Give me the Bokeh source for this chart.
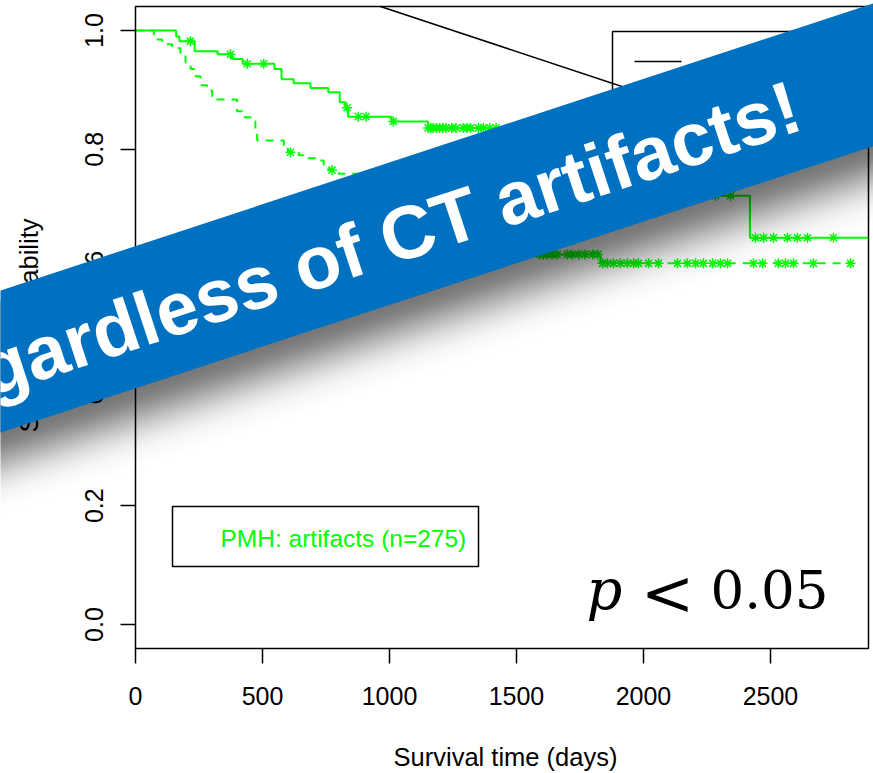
import math
from bokeh.plotting import figure
from bokeh.models import (Range1d, FixedTicker, PrintfTickFormatter, PolyAnnotation,
                          Label, BoxAnnotation)
from bokeh.embed import file_html
from bokeh.resources import INLINE

# ---------------- data ----------------
x_ticks = [0, 500, 1000, 1500, 2000, 2500]
y_ticks = [0.0, 0.2, 0.4, 0.6, 0.8, 1.0]
x_lim = [0, 2886]
y_lim = [-0.0404, 1.0404]

# solid curve (step times and survival after each step)
solid_time = [0, 160, 173, 233, 323, 380, 422, 547, 575, 623, 689, 759, 804, 827, 837,
              1008, 1152, 1560, 1700, 1850, 1980, 2100, 2180, 2419, 2886]
solid_surv = [1.0, 0.990, 0.982, 0.965, 0.960, 0.952, 0.944, 0.935, 0.918, 0.911, 0.903,
              0.896, 0.879, 0.870, 0.855, 0.847, 0.836, 0.82, 0.80, 0.78, 0.76, 0.74,
              0.722, 0.651, 0.651]
solid_cens_time = [216, 374, 440, 505, 833, 877, 908, 1015, 1152, 1162, 1172, 1185, 1197,
                   1210, 1222, 1245, 1262, 1290, 1305, 1320, 1350, 1370, 1395, 1420,
                   2283, 2343, 2441, 2473, 2512, 2567, 2606, 2646, 2748]

# dashed curve
dash_time = [0, 72, 105, 144, 177, 197, 217, 236, 256, 282, 302, 400, 426, 453, 472, 479,
             584, 600, 643, 669, 715, 741, 760, 800, 900, 1000, 1100, 1200, 1300, 1420,
             1520, 1580, 1831, 2823]
dash_surv = [1.0, 0.985, 0.977, 0.970, 0.959, 0.946, 0.935, 0.923, 0.908, 0.899, 0.884,
             0.864, 0.854, 0.847, 0.833, 0.815, 0.807, 0.795, 0.790, 0.785, 0.781, 0.774,
             0.765, 0.759, 0.74, 0.72, 0.70, 0.68, 0.66, 0.645, 0.632, 0.623, 0.608, 0.608]
dash_cens_time = [610, 774, 1590, 1605, 1620, 1640, 1660, 1700, 1720, 1745, 1770, 1800,
                  1820, 1839, 1858, 1882, 1909, 1937, 1961, 1980, 2020, 2059, 2134, 2173,
                  2205, 2236, 2272, 2303, 2331, 2433, 2469, 2531, 2559, 2591, 2669, 2815]

x_title = "Survival time (days)"
y_title = "Survival probability"
legend_text = "PMH: artifacts (n=275)"
banner_text = "Regardless of CT artifacts!"


def surv_at(times, survs, t):
    s = survs[0]
    for ti, si in zip(times, survs):
        if ti <= t:
            s = si
    return s


solid_cens_surv = [surv_at(solid_time, solid_surv, t) for t in solid_cens_time]
dash_cens_surv = [surv_at(dash_time, dash_surv, t) for t in dash_cens_time]

# ---------------- layout ----------------
W, H = 873, 773
BX0, BX1, BY0, BY1 = 135, 868, 6, 648        # pixel box of the plot region
SX = (x_lim[1] - x_lim[0]) / (BX1 - BX0)
SY = (y_lim[1] - y_lim[0]) / (BY1 - BY0)


def dx(px):
    return x_lim[0] + (px - BX0) * SX


def dy(py):
    return y_lim[1] - (py - BY0) * SY


GREEN = "#00FF00"
FONT = "Liberation Sans"

p = figure(width=W, height=H, x_range=Range1d(dx(0), dx(W)),
           y_range=Range1d(dy(H), dy(0)),
           output_backend="svg", toolbar_location=None,
           min_border_left=0, min_border_right=0, min_border_top=0, min_border_bottom=0)
p.grid.visible = False
p.outline_line_color = None
p.background_fill_color = "white"
p.border_fill_color = "white"

for ax in (p.xaxis[0], p.yaxis[0]):
    ax.axis_line_color = None
    ax.major_tick_out = 15
    ax.major_tick_in = 0
    ax.minor_tick_line_color = None
    ax.major_tick_line_width = 1.5
    ax.major_tick_line_color = "black"
    ax.major_label_text_font = FONT
    ax.major_label_text_font_size = "25px"
    ax.major_label_text_color = "black"

p.xaxis.fixed_location = y_lim[0]
p.yaxis.fixed_location = x_lim[0]
p.xaxis.ticker = FixedTicker(ticks=x_ticks)
p.yaxis.ticker = FixedTicker(ticks=y_ticks)
p.yaxis.formatter = PrintfTickFormatter(format="%.1f")
p.yaxis.major_label_orientation = "vertical"
p.xaxis.major_label_standoff = 23
p.yaxis.major_label_standoff = 17

# axis titles, centred on the plot box
p.add_layout(Label(x=dx(505), y=dy(756), text=x_title, text_align="center",
                   text_baseline="alphabetic", text_font=FONT,
                   text_font_size="25.5px", text_color="black"))
p.add_layout(Label(x=dx(28), y=dy(325), text=y_title, text_align="center",
                   text_baseline="alphabetic", text_font=FONT, angle=math.pi / 2,
                   text_font_size="25.5px", text_color="black"))

# plot box
p.add_layout(BoxAnnotation(left=x_lim[0], right=x_lim[1], bottom=y_lim[0], top=y_lim[1],
                           fill_alpha=0, line_color="black", line_alpha=1,
                           line_width=1.5))

# curves
p.step(solid_time, solid_surv, mode="after", line_color=GREEN, line_width=2)
p.step(dash_time, dash_surv, mode="after", line_color=GREEN, line_width=2,
       line_dash="8 7")
p.scatter(solid_cens_time, solid_cens_surv, marker="asterisk", size=10,
          line_color=GREEN, line_width=1.5)
p.scatter(dash_cens_time, dash_cens_surv, marker="asterisk", size=10,
          line_color=GREEN, line_width=1.5)

# black diagonal line and top-right legend (partly hidden by banner)
p.line([dx(380), dx(700)], [dy(6), dy(6 + 0.331 * 320)], line_color="black",
       line_width=1.5)
p.add_layout(BoxAnnotation(left=dx(612), right=dx(860), top=dy(31), bottom=dy(120),
                           fill_alpha=0, line_color="black", line_alpha=1,
                           line_width=1.5))
p.line([dx(634), dx(681)], [dy(61), dy(61)], line_color="black", line_width=1.5)

# bottom legend
p.add_layout(BoxAnnotation(left=dx(172), right=dx(478), top=dy(506), bottom=dy(566),
                           fill_alpha=0, line_color="black", line_alpha=1,
                           line_width=1.5))
p.add_layout(Label(x=dx(220), y=dy(538), text=legend_text, text_align="left",
                   text_baseline="alphabetic", text_font=FONT,
                   text_font_size="24.5px", text_color=GREEN))

# p < 0.05
p.add_layout(Label(x=dx(586), y=dy(589), text="p", text_align="left",
                   text_baseline="alphabetic", text_font="DejaVu Serif",
                   text_font_style="italic", text_font_size="56px", text_color="black"))
p.add_layout(Label(x=dx(667), y=dy(592), text="<", text_align="center",
                   text_baseline="alphabetic", text_font="DejaVu Serif",
                   text_font_size="64px", text_color="black"))
p.add_layout(Label(x=dx(710), y=dy(588), text="0.05", text_align="left",
                   text_baseline="alphabetic", text_font="DejaVu Serif",
                   text_font_size="53px", text_color="black"))


# banner shadow
def top_edge(x):
    return 290 - 0.329 * x


def bot_edge(x):
    return 432 - 0.328 * x


XL, XR = -80, 980
step = 3
K = 36
D = [0.50 * math.exp(-(((k + 0.5) * step) / 40.0) ** 2) for k in range(K)]
S = [1 - d for d in D] + [1.0]
for k in range(K - 1, -1, -1):
    a = 1 - S[k] / S[k + 1]
    off = (k + 1) * step
    xs = [dx(XL), dx(XR), dx(XR), dx(XL)]
    ys = [dy(top_edge(XL) + 10), dy(top_edge(XR) + 10), dy(bot_edge(XR) + off),
          dy(bot_edge(XL) + off)]
    p.add_layout(PolyAnnotation(xs=xs, ys=ys, fill_color="black", fill_alpha=a,
                                line_color=None))

# banner
p.add_layout(PolyAnnotation(
    xs=[dx(XL), dx(XR), dx(XR), dx(XL)],
    ys=[dy(top_edge(XL)), dy(top_edge(XR)), dy(bot_edge(XR)), dy(bot_edge(XL))],
    fill_color="#0070C0", fill_alpha=1, line_color=None))
ang = math.atan(0.329)
p.add_layout(Label(x=dx(807 - 32 * math.sin(ang)), y=dy(134 - 32 * math.cos(ang)),
                   text=banner_text, angle=ang,
                   text_align="right", text_baseline="alphabetic", text_font=FONT,
                   text_font_style="bold", text_font_size="75px", text_color="white"))

open("out.html", "w").write(file_html(p, INLINE))
